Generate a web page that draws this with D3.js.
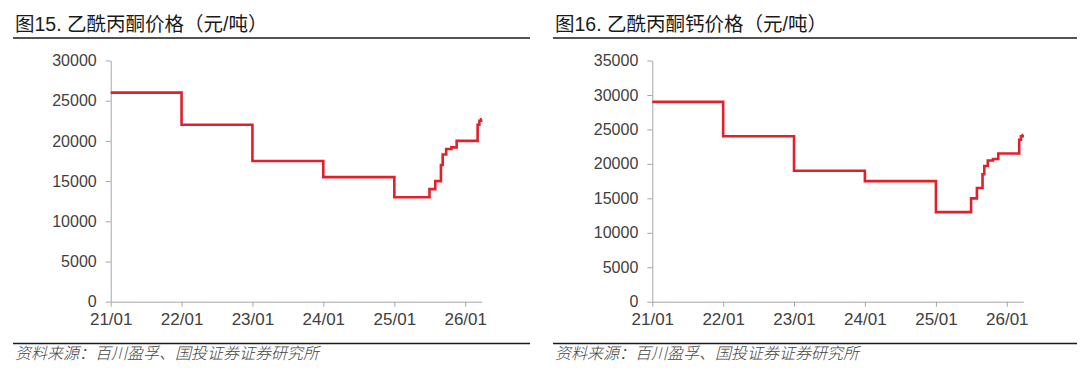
<!DOCTYPE html>
<html>
<head>
<meta charset="utf-8">
<script src="https://cdn.jsdelivr.net/npm/d3@7"></script>
<style>
  body { margin: 0; background: #fff; }
  svg { display: block; }
  .tick text { fill: #404040; }
</style>
</head>
<body>
<div id="chart"></div>
<script>
// dates where the price changes (shared by both charts)
var changeDates = ["2021-01-01", "2022-01-01", "2023-01-01", "2024-01-01", "2025-01-01",
  "2025-07-01", "2025-07-31", "2025-08-29", "2025-09-07", "2025-09-25", "2025-10-22",
  "2025-11-18", "2026-03-06", "2026-03-15", "2026-03-24"];
var endDate = "2026-03-27";

// 乙酰丙酮 price, 元/吨
var acacValues = [26000, 22000, 17500, 15500, 13000, 14000, 15000, 17000, 18300, 19000, 19200,
  20000, 22000, 22500, 22700];
// 乙酰丙酮钙 price, 元/吨
var caAcacValues = [29000, 24000, 19000, 17500, 13000, 15000, 16500, 18500, 19700, 20500, 20700,
  21500, 23500, 24000, 24200];

var xTickLabels = ["21/01", "22/01", "23/01", "24/01", "25/01", "26/01"];
var leftYTicks = [0, 5000, 10000, 15000, 20000, 25000, 30000];
var rightYTicks = [0, 5000, 10000, 15000, 20000, 25000, 30000, 35000];

var titles = ["图15. 乙酰丙酮价格（元/吨）", "图16. 乙酰丙酮钙价格（元/吨）"];
var sourceText = "资料来源：百川盈孚、国投证券证券研究所";

var svgWidth = 1080;
var svgHeight = 374;
var fontFamily = "'Liberation Sans', Arial, 'Noto Sans CJK SC', sans-serif";

var parseDate = d3.timeParse("%Y-%m-%d");

var svg = d3.select("#chart")
  .append("svg")
  .attr("width", svgWidth)
  .attr("height", svgHeight)
  .style("font-family", fontFamily);

// draws one panel: title, rules, axes and the step line
function drawPanel(panel) {
  var g = svg.append("g").attr("transform", `translate(${panel.left}, 0)`);

  // title and the rule under it
  g.append("text")
    .attr("x", 2)
    .attr("y", 31)
    .attr("fill", "#1a1a1a")
    .style("font-size", "19.5px")
    .text(panel.title);

  g.append("line")
    .attr("x1", 0).attr("x2", panel.ruleWidth)
    .attr("y1", 38).attr("y2", 38)
    .attr("stroke", "#1a1a1a")
    .attr("stroke-width", 1.5);

  // bottom rule and source note
  g.append("line")
    .attr("x1", 0).attr("x2", panel.ruleWidth)
    .attr("y1", 343.5).attr("y2", 343.5)
    .attr("stroke", "#1a1a1a")
    .attr("stroke-width", 1.5);

  g.append("text")
    .attr("x", 2)
    .attr("y", 359)
    .attr("fill", "#444")
    .style("font-size", "16px")
    .style("font-weight", 300)
    .style("font-style", "italic")
    .text(sourceText);

  // data with a last point to close the step
  var data = changeDates.map((d, i) => ({ date: parseDate(d), value: panel.values[i] }));
  data.push({ date: parseDate(endDate), value: panel.values[panel.values.length - 1] });

  var xScale = d3.scaleTime()
    .domain([parseDate(changeDates[0]), parseDate(endDate)])
    .range([panel.plotLeft, panel.plotRight]);

  var yScale = d3.scaleLinear()
    .domain([0, d3.max(panel.yTicks)])
    .range([301.7, 60.5]);

  var tickDates = xTickLabels.map(t => parseDate("20" + t.slice(0, 2) + "-01-01"));

  var bottomAxis = d3.axisBottom(xScale)
    .tickValues(tickDates)
    .tickFormat((d, i) => xTickLabels[i])
    .tickSize(5)
    .tickSizeOuter(0)
    .tickPadding(6);

  var leftAxis = d3.axisLeft(yScale)
    .tickValues(panel.yTicks)
    .tickFormat(d3.format("d"))
    .tickSize(5)
    .tickSizeOuter(0)
    .tickPadding(panel.yPad);

  var xAxis = g.append("g")
    .attr("transform", `translate(0, ${yScale(0)})`)
    .call(bottomAxis);

  var yAxis = g.append("g")
    .attr("transform", `translate(${panel.plotLeft}, 0)`)
    .call(leftAxis);

  [xAxis, yAxis].forEach(ax => {
    ax.select(".domain").attr("stroke", "#a6a6a6");
    ax.selectAll(".tick line").attr("stroke", "#a6a6a6");
    ax.selectAll(".tick text")
      .style("font-family", fontFamily)
      .style("font-size", "16px");
  });
  xAxis.selectAll(".tick text").style("font-size", "17px");

  // price line
  var line = d3.line()
    .curve(d3.curveStepAfter)
    .x(d => xScale(d.date))
    .y(d => yScale(d.value));

  g.append("path")
    .datum(data)
    .attr("d", line)
    .attr("fill", "none")
    .attr("stroke", "#e1202b")
    .attr("stroke-width", 2.6);
}

drawPanel({
  left: 13, ruleWidth: 517, title: titles[0], values: acacValues,
  yTicks: leftYTicks, plotLeft: 97.7, plotRight: 468.7, yPad: 9
});

drawPanel({
  left: 553, ruleWidth: 524, title: titles[1], values: caAcacValues,
  yTicks: rightYTicks, plotLeft: 99.3, plotRight: 470.3, yPad: 9
});
</script>
</body>
</html>
